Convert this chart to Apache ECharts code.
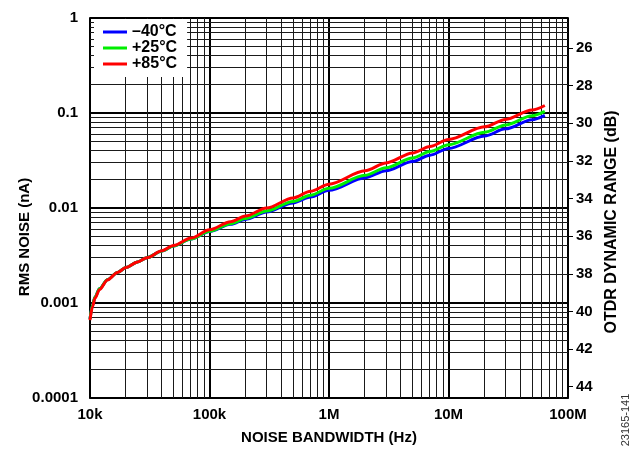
<!DOCTYPE html>
<html>
<head>
<meta charset="utf-8">
<script src="https://cdn.jsdelivr.net/npm/echarts@6/dist/echarts.min.js"></script>
<style>
  html, body { margin: 0; padding: 0; background: #fff; }
  #chart { width: 641px; height: 450px; }
</style>
</head>
<body>
<div id="chart"></div>
<script>
// Noise bandwidth (Hz) at which the RMS noise was sampled
const bandwidthHz = [
  1e4, 1.05e4, 1.1e4, 1.2e4, 1.4e4, 1.7e4, 2e4, 2.5e4, 3e4, 4e4, 5e4, 7e4,
  1e5, 1.5e5, 2e5, 3e5, 5e5, 7e5,
  1e6, 2e6, 3e6, 5e6, 7e6,
  1e7, 2e7, 3e7, 5e7, 6.4e7
];

// RMS noise (nA) per temperature
const noiseMinus40C = [
  0.00068, 0.00095, 0.00115, 0.00141, 0.00176, 0.00210, 0.00236, 0.00270, 0.00300, 0.00352, 0.00398, 0.00471,
  0.00565, 0.00674, 0.00759, 0.00908, 0.01132, 0.01305,
  0.01534, 0.02082, 0.02472, 0.03090, 0.03600,
  0.04238, 0.05714, 0.06808, 0.08489, 0.09427
];
const noisePlus25C = [
  0.00068, 0.00095, 0.00115, 0.00141, 0.00176, 0.00210, 0.00236, 0.00270, 0.00300, 0.00352, 0.00398, 0.00471,
  0.00569, 0.00682, 0.00774, 0.00930, 0.01174, 0.01363,
  0.01610, 0.02211, 0.02658, 0.03362, 0.03927,
  0.04634, 0.06263, 0.07480, 0.09349, 0.10382
];
const noisePlus85C = [
  0.00066, 0.00092, 0.00112, 0.00138, 0.00175, 0.00210, 0.00236, 0.00270, 0.00300, 0.00355, 0.00403, 0.00483,
  0.00590, 0.00716, 0.00822, 0.01000, 0.01277, 0.01501,
  0.01782, 0.02465, 0.02984, 0.03793, 0.04441,
  0.05253, 0.07152, 0.08562, 0.10753, 0.11998
];

const seriesNames = ['\u201340\u00B0C', '+25\u00B0C', '+85\u00B0C'];
const seriesColors = ['#0000ff', '#00ee00', '#ff0000'];

// Axis tick labels
const xTickValues = [1e4, 1e5, 1e6, 1e7, 1e8];
const xTickLabels = ['10k', '100k', '1M', '10M', '100M'];
const yTickValues = [0.0001, 0.001, 0.01, 0.1, 1];
const yTickLabels = ['0.0001', '0.001', '0.01', '0.1', '1'];
const dbTickValues = [26, 28, 30, 32, 34, 36, 38, 40, 42, 44];
// Dynamic range spanned by the noise axis (top, bottom)
const dbRange = [24.4, 44.6];

const X_MIN = 1e4, X_MAX = 1e8, Y_MIN = 1e-4, Y_MAX = 1;
const FONT = '"Liberation Sans", Arial, Helvetica, sans-serif';

function logLabel(values, labels) {
  return function (v) {
    const i = values.findIndex(t => Math.abs(Math.log10(t) - Math.log10(v)) < 1e-6);
    return i >= 0 ? labels[i] : '';
  };
}

// Minor log gridlines at 2..9 of each decade: [x, y, direction]
const gridItems = [];
for (let e = 4; e < 8; e++) for (let k = 2; k <= 9; k++) gridItems.push([k * Math.pow(10, e), Y_MIN, 0]);
for (let e = -4; e < 0; e++) for (let k = 2; k <= 9; k++) gridItems.push([X_MIN, k * Math.pow(10, e), 1]);

const snap = v => Math.round(v - 0.5) + 0.5;

const gridSeries = {
  name: 'minor-grid',
  type: 'custom',
  z: 1,
  silent: true,
  clip: false,
  encode: { x: 0, y: 1 },
  data: gridItems,
  renderItem: function (params, api) {
    let p1, p2;
    if (api.value(2) === 0) {
      p1 = api.coord([api.value(0), Y_MIN]);
      p2 = api.coord([api.value(0), Y_MAX]);
      p1[0] = p2[0] = snap(p1[0]);
    } else {
      p1 = api.coord([X_MIN, api.value(1)]);
      p2 = api.coord([X_MAX, api.value(1)]);
      p1[1] = p2[1] = snap(p1[1]);
    }
    return {
      type: 'line',
      shape: { x1: p1[0], y1: p1[1], x2: p2[0], y2: p2[1] },
      style: { stroke: '#1a1a1a', lineWidth: 1 }
    };
  }
};

const curves = [noiseMinus40C, noisePlus25C, noisePlus85C].map((vals, i) => ({
  name: seriesNames[i],
  type: 'line',
  z: 3,
  data: bandwidthHz.map((f, j) => [f, vals[j]]),
  showSymbol: false,
  symbol: 'none',
  smooth: 0.3,
  smoothMonotone: 'x',
  lineStyle: { color: seriesColors[i], width: 3 },
  itemStyle: { color: seriesColors[i] }
}));

const chart = echarts.init(document.getElementById('chart'), null, { renderer: 'canvas' });
chart.setOption({
  animation: false,
  backgroundColor: '#fff',
  grid: {
    left: 90, right: 73, top: 18, bottom: 50,
    show: true, borderColor: '#000', borderWidth: 1.5, backgroundColor: '#fff'
  },
  legend: {
    data: seriesNames,
    orient: 'vertical',
    left: 94, top: 19,
    padding: [5, 10, 5, 9],
    itemGap: 0,
    itemWidth: 24, itemHeight: 3,
    icon: 'rect',
    backgroundColor: '#fff',
    z: 10,
    textStyle: { fontFamily: FONT, fontWeight: 'bold', fontSize: 16, color: '#000', lineHeight: 16 }
  },
  xAxis: {
    type: 'log', logBase: 10, min: X_MIN, max: X_MAX, splitNumber: 4,
    name: 'NOISE BANDWIDTH (Hz)', nameLocation: 'middle', nameGap: 32,
    nameTextStyle: { fontFamily: FONT, fontWeight: 'bold', fontSize: 15, color: '#000' },
    axisLine: { show: true, lineStyle: { color: '#000', width: 1.5 } },
    axisTick: { show: false },
    axisLabel: { margin: 9, fontFamily: FONT, fontWeight: 'bold', fontSize: 15, color: '#000',
      formatter: logLabel(xTickValues, xTickLabels) },
    splitLine: { show: true, lineStyle: { color: '#000', width: 2 } },
    minorTick: { show: false }, minorSplitLine: { show: false }
  },
  yAxis: [
    {
      type: 'log', logBase: 10, min: Y_MIN, max: Y_MAX, splitNumber: 4,
      axisLine: { show: true, lineStyle: { color: '#000', width: 1.5 } },
      axisTick: { show: false },
      axisLabel: { margin: 12, fontFamily: FONT, fontWeight: 'bold', fontSize: 15, color: '#000',
        formatter: logLabel(yTickValues, yTickLabels) },
      splitLine: { show: true, lineStyle: { color: '#000', width: 2 } },
      minorTick: { show: false }, minorSplitLine: { show: false }
    },
    {
      type: 'value', position: 'right', inverse: true,
      min: dbRange[0], max: dbRange[1],
      axisLine: { show: true, lineStyle: { color: '#000', width: 1.5 } },
      axisTick: { show: true, inside: false, length: 5, customValues: dbTickValues,
        lineStyle: { color: '#000', width: 1 } },
      axisLabel: { margin: 8, fontFamily: FONT, fontWeight: 'bold', fontSize: 15, color: '#000',
        customValues: dbTickValues },
      splitLine: { show: false }
    }
  ],
  graphic: [
    {
      type: 'text', x: 25, y: 237, rotation: Math.PI / 2,
      style: { text: 'RMS NOISE (nA)', font: 'bold 15px ' + FONT, fill: '#000',
        align: 'center', verticalAlign: 'middle' }
    },
    {
      type: 'text', x: 612, y: 222, rotation: Math.PI / 2,
      style: { text: 'OTDR DYNAMIC RANGE (dB)', font: 'bold 16px ' + FONT, fill: '#000',
        align: 'center', verticalAlign: 'middle' }
    },
    {
      type: 'text', x: 626, y: 420, rotation: Math.PI / 2,
      style: { text: '23165-141', font: '11px ' + FONT, fill: '#333',
        align: 'center', verticalAlign: 'middle' }
    }
  ],
  series: [gridSeries].concat(curves)
});
</script>
</body>
</html>
